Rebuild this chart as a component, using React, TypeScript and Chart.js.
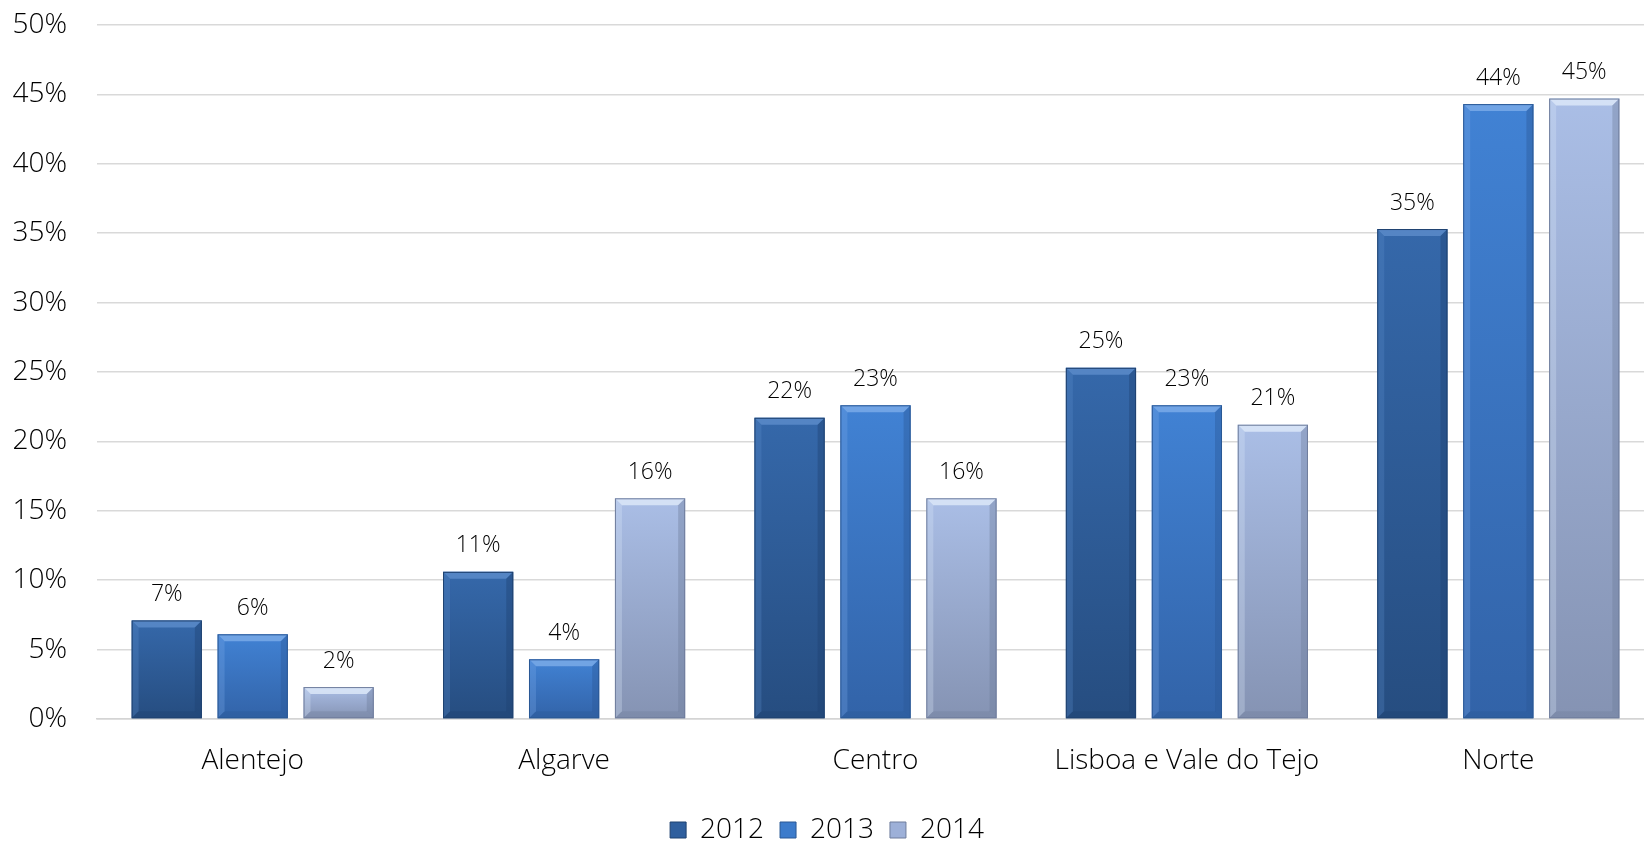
import React, { useEffect, useRef } from "react";
import { Chart, registerables } from "chart.js";

Chart.register(...registerables);

const categories = ["Alentejo", "Algarve", "Centro", "Lisboa e Vale do Tejo", "Norte"];
const seriesNames = ["2012", "2013", "2014"];
const values2012 = [7.1, 10.6, 21.7, 25.3, 35.3];
const values2013 = [6.1, 4.3, 22.6, 22.6, 44.3];
const values2014 = [2.3, 15.9, 15.9, 21.2, 44.7];
const yTicks = [0, 5, 10, 15, 20, 25, 30, 35, 40, 45, 50];

const palettes = [
  { top: "#3568AA", bottom: "#264D80", hi: "#5B8BC9", dark: "#1F4270", legend: "#2F5F9E" },
  { top: "#4182D4", bottom: "#3263A8", hi: "#7AAAE8", dark: "#2A5895", legend: "#3C7BCB" },
  { top: "#AABEE6", bottom: "#8593B3", hi: "#DCE7F8", dark: "#6F7D9C", legend: "#9DB0D8" },
];

const FONT = "'Open Sans', sans-serif";
const TEXT = "#000000";

export default function App() {
  const ref = useRef<HTMLCanvasElement | null>(null);
  useEffect(() => {
    document.documentElement.style.overflow = "hidden";
    document.body.style.overflow = "hidden";
    const canvas = ref.current;
    if (!canvas) return;
    const seriesValues = [values2012, values2013, values2014];

    const makeBg = (si: number) => (ctx: any) => {
      const chart = ctx.chart;
      const y = chart.scales?.y;
      if (!y || ctx.raw == null) return palettes[si].legend;
      const top = y.getPixelForValue(ctx.raw);
      const base = y.getPixelForValue(0);
      if (!isFinite(top) || !isFinite(base) || top === base) return palettes[si].legend;
      const g = chart.ctx.createLinearGradient(0, top, 0, base);
      g.addColorStop(0, palettes[si].top);
      g.addColorStop(1, palettes[si].bottom);
      return g;
    };

    const bevelPlugin = {
      id: "bevel",
      afterDatasetsDraw(chart: any) {
        const c = chart.ctx;
        chart.data.datasets.forEach((ds: any, di: number) => {
          const meta = chart.getDatasetMeta(di);
          const p = palettes[di];
          meta.data.forEach((el: any) => {
            const { x, y, base, width } = el.getProps(["x", "y", "base", "width"], true);
            const l = x - width / 2;
            const r = x + width / 2;
            const h = base - y;
            const b = Math.min(7, h / 2);
            c.save();
            c.globalAlpha = 0.85;
            c.fillStyle = p.hi;
            c.beginPath();
            c.moveTo(l, y);
            c.lineTo(r, y);
            c.lineTo(r - b, y + b);
            c.lineTo(l + b, y + b);
            c.closePath();
            c.fill();
            c.globalAlpha = 0.3;
            c.fillStyle = p.hi;
            c.beginPath();
            c.moveTo(l, y);
            c.lineTo(l + b, y + b);
            c.lineTo(l + b, base - b);
            c.lineTo(l, base);
            c.closePath();
            c.fill();
            c.globalAlpha = 0.4;
            c.fillStyle = p.dark;
            c.beginPath();
            c.moveTo(r, y);
            c.lineTo(r - b, y + b);
            c.lineTo(r - b, base - b);
            c.lineTo(r, base);
            c.closePath();
            c.fill();
            c.globalAlpha = 0.35;
            c.fillStyle = p.dark;
            c.beginPath();
            c.moveTo(l, base);
            c.lineTo(l + b, base - b);
            c.lineTo(r - b, base - b);
            c.lineTo(r, base);
            c.closePath();
            c.fill();
            c.globalAlpha = 1;
            c.strokeStyle = p.dark;
            c.lineWidth = 1;
            c.strokeRect(l + 0.5, y + 0.5, width - 1, h - 1);
            c.restore();
          });
        });
      },
    };

    const labelPlugin = {
      id: "valueLabels",
      afterDatasetsDraw(chart: any) {
        const c = chart.ctx;
        c.save();
        c.font = `300 23px ${FONT}`;
        c.fillStyle = TEXT;
        c.textAlign = "center";
        c.textBaseline = "middle";
        chart.data.datasets.forEach((ds: any, di: number) => {
          const meta = chart.getDatasetMeta(di);
          meta.data.forEach((el: any, i: number) => {
            const v = ds.data[i];
            c.fillText(`${Math.round(v)}%`, el.x, el.y - 26);
          });
        });
        c.restore();
      },
    };

    const chart = new Chart(canvas, {
      type: "bar",
      data: {
        labels: categories,
        datasets: seriesValues.map((vals, si) => ({
          label: seriesNames[si],
          data: vals,
          backgroundColor: makeBg(si),
          borderWidth: 0,
          categoryPercentage: 0.828,
          barPercentage: 0.817,
        })),
      },
      options: {
        animation: false,
        responsive: true,
        maintainAspectRatio: false,
        layout: { padding: { top: 0, right: 0, left: 0, bottom: 0 } },
        plugins: {
          tooltip: { enabled: false },
          legend: {
            position: "bottom",
            labels: {
              font: { family: FONT, size: 28, weight: "300" },
              color: TEXT,
              boxWidth: 16,
              boxHeight: 16,
              padding: 16,
              generateLabels: () =>
                seriesNames.map((n, i) => ({
                  text: n,
                  fillStyle: palettes[i].legend,
                  strokeStyle: palettes[i].dark,
                  lineWidth: 1,
                  hidden: false,
                  datasetIndex: i,
                  fontColor: TEXT,
                })),
            },
          },
        },
        scales: {
          x: {
            grid: { display: false },
            border: { display: true, color: "#d4d4d4", width: 1.5 },
            afterFit: (scale: any) => {
              scale.height = 81;
            },
            ticks: { font: { family: FONT, size: 28, weight: "300" }, color: TEXT, padding: 17, maxRotation: 0 },
          },
          y: {
            min: 0,
            max: 50,
            afterFit: (scale: any) => {
              scale.width = 97;
              scale.paddingTop = 25;
              scale.paddingBottom = 0;
            },
            afterBuildTicks: (scale: any) => {
              scale.ticks = yTicks.map((v) => ({ value: v }));
            },
            grid: { color: "#d9d9d9", lineWidth: 1.5, drawTicks: false },
            border: { display: false },
            ticks: {
              font: { family: FONT, size: 28, weight: "300" },
              color: TEXT,
              padding: 30,
              callback: (v: any) => `${v}%`,
            },
          },
        },
      },
      plugins: [bevelPlugin, labelPlugin],
    });
    return () => chart.destroy();
  }, []);

  return (
    <div style={{ position: "absolute", left: 0, top: 0, width: "1654px", height: "854px" }}>
      <canvas ref={ref} />
    </div>
  );
}
